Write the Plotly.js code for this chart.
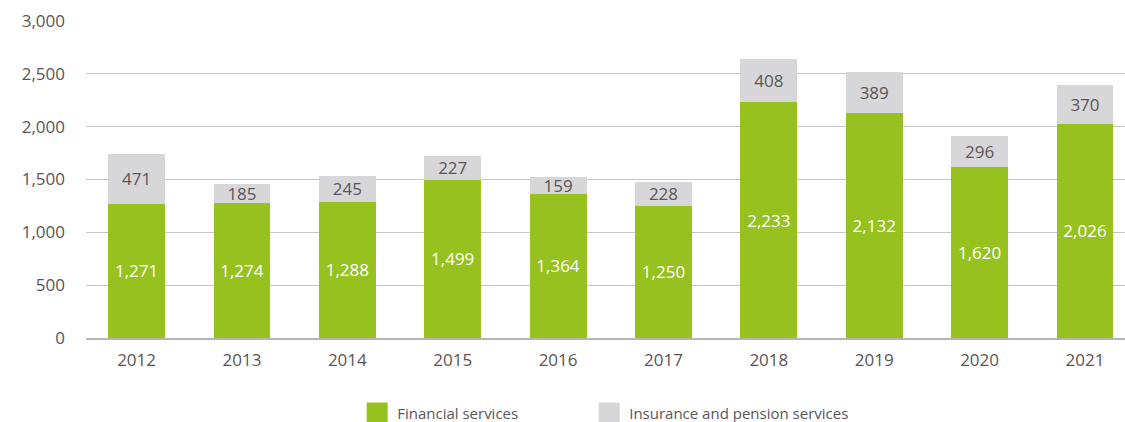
<!DOCTYPE html>
<html>
<head>
<meta charset="utf-8">
<script src="https://cdn.plot.ly/plotly-3.0.1.min.js"></script>
<style>html,body{margin:0;padding:0;background:#fff;}#chart{width:1125px;height:422px;}</style>
</head>
<body>
<div id="chart"></div>
<script>
const years = ['2012','2013','2014','2015','2016','2017','2018','2019','2020','2021'];
const financialServices = [1271, 1274, 1288, 1499, 1364, 1250, 2233, 2132, 1620, 2026];
const insurancePension = [471, 185, 245, 227, 159, 228, 408, 389, 296, 370];
const seriesNames = ['Financial services', 'Insurance and pension services'];
const seriesColors = ['#97c11f', '#d7d7d9'];
const yTicks = [0, 500, 1000, 1500, 2000, 2500, 3000];

const fontFamily = '"Open Sans", "Noto Sans", sans-serif';
const textColor = '#5a5556';

const barTrace = (name, vals, color, txtColor) => ({
  type: 'bar', name: name, x: years, y: vals,
  marker: {color: color}, width: 0.54, showlegend: false,
  texttemplate: '%{y:,}', textposition: 'inside', insidetextanchor: 'middle',
  textangle: 0, constraintext: 'none',
  textfont: {color: txtColor, size: 17, family: fontFamily},
  hoverinfo: 'none'
});

const legendTrace = (name, color, legendId) => ({
  type: 'scatter', mode: 'markers', name: name, x: [null], y: [null],
  marker: {symbol: 'square', size: 16, color: color, line: {color: color, width: 5}},
  showlegend: true, legend: legendId, hoverinfo: 'none'
});

const traces = [
  barTrace(seriesNames[0], financialServices, seriesColors[0], '#ffffff'),
  barTrace(seriesNames[1], insurancePension, seriesColors[1], textColor),
  legendTrace(seriesNames[0], seriesColors[0], 'legend'),
  legendTrace(seriesNames[1], seriesColors[1], 'legend2')
];

const legendFont = {size: 15, color: textColor, family: fontFamily};

const layout = {
  width: 1125, height: 422,
  margin: {l: 86, r: 0, t: 21, b: 84, autoexpand: false},
  paper_bgcolor: '#ffffff', plot_bgcolor: '#ffffff',
  barmode: 'stack',
  font: {family: fontFamily, color: textColor, size: 17},
  separators: '.,',
  xaxis: {
    type: 'category', range: [-0.48, 9.38],
    showgrid: false, showline: true, linecolor: '#b5b5b5', linewidth: 1.5,
    ticks: '', ticklabelstandoff: 6, tickfont: {size: 17, color: textColor},
    fixedrange: true
  },
  yaxis: {
    range: [0, 3000], tickvals: yTicks, tickformat: ',',
    showgrid: true, gridcolor: '#c6c6c6', gridwidth: 1,
    zeroline: false, showline: false, ticks: '',
    ticklabelstandoff: 20,
    tickfont: {size: 17, color: textColor},
    fixedrange: true
  },
  showlegend: true,
  legend: {
    orientation: 'h', x: 0.261, xanchor: 'left', y: -0.185, yanchor: 'top',
    font: legendFont, bgcolor: 'rgba(0,0,0,0)'
  },
  legend2: {
    orientation: 'h', x: 0.4843, xanchor: 'left', y: -0.185, yanchor: 'top',
    font: legendFont, bgcolor: 'rgba(0,0,0,0)'
  }
};

Plotly.newPlot('chart', traces, layout, {displayModeBar: false, staticPlot: true});
</script>
</body>
</html>
